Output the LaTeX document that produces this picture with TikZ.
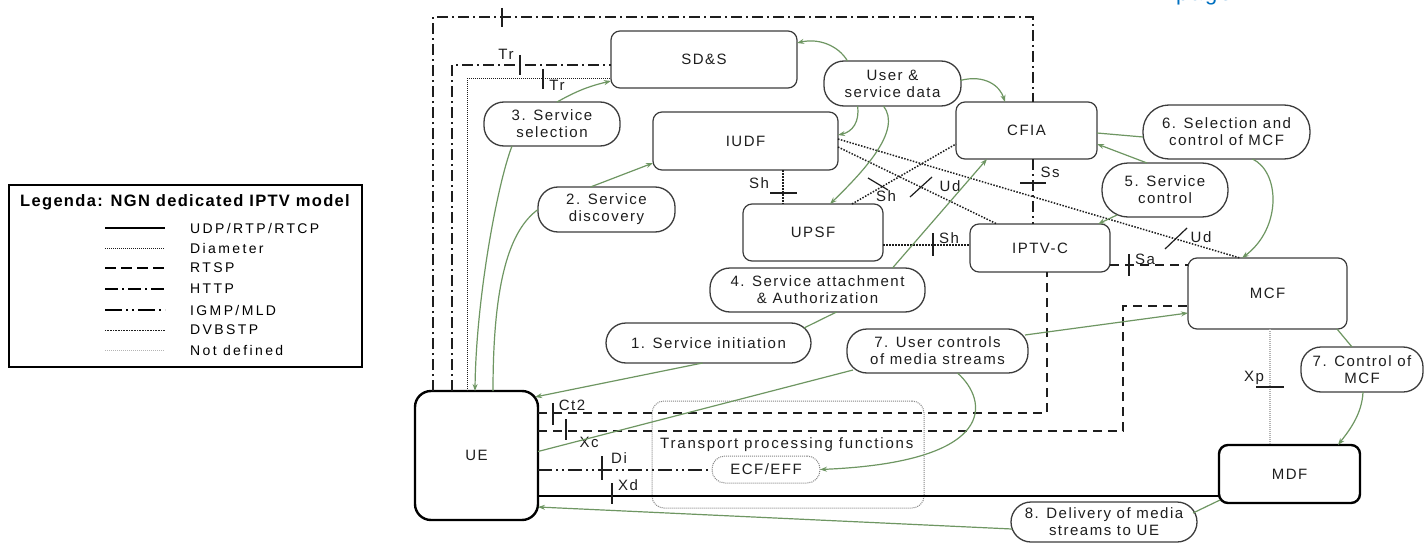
\documentclass[tikz,border=0pt]{standalone}
\usepackage{fontspec}
\setmainfont{Liberation Sans}[LetterSpace=10]
\newfontfamily\legendfont{Liberation Sans}[LetterSpace=17]
\newfontfamily\legendtitlefont{Liberation Sans}[LetterSpace=8]
\usetikzlibrary{arrows.meta,calc}

\definecolor{edge}{RGB}{60,60,60}
\definecolor{ink}{RGB}{30,30,30}
\definecolor{flowgreen}{RGB}{110,150,98}
\definecolor{tpfgray}{RGB}{135,135,135}
\definecolor{lightdot}{RGB}{180,180,180}
\definecolor{pageblue}{RGB}{0,112,192}

\tikzset{
  fn/.style={draw=edge, line width=1.2pt, rounded corners=9pt, outer sep=0pt, inner sep=2pt,
    text=ink, font=\fontsize{15}{17}\selectfont},
  fnthick/.style={fn, draw=black, line width=2.4pt},
  bubble/.style={draw=edge, line width=1.3pt, rounded corners=20pt, outer sep=0pt, inner sep=1pt,
    align=center, text=ink, font=\fontsize{15}{17}\selectfont},
  iflab/.style={text=ink, font=\fontsize{15}{15}\selectfont, inner sep=0pt},
  tick/.style={draw=ink, line width=1.2pt},
  http/.style={draw=ink, line width=1.6pt, dash pattern=on 11pt off 4pt on 2pt off 4pt},
  rtsp/.style={draw=ink, line width=2.4pt, dash pattern=on 9pt off 6pt},
  udp/.style={draw=black, line width=2.6pt},
  igmp/.style={draw=ink, line width=2pt, dash pattern=on 14pt off 4pt on 2pt off 4pt on 2pt off 4pt},
  diam/.style={draw=ink, line width=1.5pt, dash pattern=on 1.5pt off 1.5pt},
  dvb/.style={draw=ink, line width=1pt, dash pattern=on 1pt off 1pt},
  nodef/.style={draw=lightdot, line width=1.2pt, dash pattern=on 1pt off 1pt},
  flow/.style={draw=flowgreen, line width=1.2pt},
  flowarr/.style={flow, -{Stealth[length=7pt,width=5pt]}},
  legtxt/.style={anchor=west, inner sep=0pt, text=black, font=\legendfont\fontsize{14}{14}\selectfont},
}

\begin{document}
\begin{tikzpicture}[x=1pt,y=-1pt]
\useasboundingbox[fill=white] (0,0) rectangle (1427,543);

% partly visible page caption
\node[anchor=base west, text=pageblue, font=\fontsize{22}{22}\selectfont, inner sep=0pt] (pg) at (1176,0.5) {page};

% ---------- functional entities ----------
\node[fn, minimum width=186pt, minimum height=57pt] (SDS) at (704,59.5) {SD\&S};
\node[fn, minimum width=185pt, minimum height=58pt] (IUDF) at (745.5,141) {IUDF};
\node[fn, minimum width=141pt, minimum height=57pt] (CFIA) at (1026.5,130.5) {CFIA};
\node[fn, minimum width=140pt, minimum height=57pt] (UPSF) at (813,232.5) {UPSF};
\node[fn, minimum width=140pt, minimum height=48pt] (IPTVC) at (1040,248) {IPTV-C};
\node[fn, minimum width=159pt, minimum height=71pt] (MCF) at (1267.5,293.5) {MCF};
\node[fnthick, minimum width=141pt, minimum height=58pt] (MDF) at (1289.5,474) {MDF};
\node[fnthick, minimum width=123pt, minimum height=129pt, rounded corners=16pt] (UE) at (476.5,455.5) {UE};

% transport processing functions
\node[draw=tpfgray, line width=1pt, dash pattern=on 1pt off 1pt, rounded corners=12pt,
      minimum width=272pt, minimum height=107pt, outer sep=0pt] (TPF) at (788,454.5) {};
\node[iflab, anchor=west, font=\addfontfeatures{LetterSpace=12}\fontsize{15}{15}\selectfont] (TPFlab) at (660,445) {Transport processing functions};
\node[bubble, draw=tpfgray, line width=1pt, dash pattern=on 1pt off 1pt, rounded corners=13pt,
      minimum width=108pt, minimum height=27pt] (ECF) at (766,469.5) {ECF/EFF};

% ---------- step bubbles ----------
\node[bubble, minimum width=136pt, minimum height=44pt] (b3) at (552,124) {3. Service\\selection};
\node[bubble, minimum width=137pt, minimum height=45pt] (b2) at (606.5,209.5) {2. Service\\discovery};
\node[bubble, minimum width=137pt, minimum height=45pt] (bU) at (892.5,83.5) {User \&\\service data};
\node[bubble, minimum width=167pt, minimum height=54pt, rounded corners=26pt] (b6) at (1226.5,132) {6. Selection and\\control of MCF};
\node[bubble, minimum width=126pt, minimum height=54pt, rounded corners=26pt] (b5) at (1165,190) {5. Service\\control};
\node[bubble, minimum width=215pt, minimum height=44pt] (b4) at (817.5,290) {4. Service attachment\\\& Authorization};
\node[bubble, minimum width=205pt, minimum height=40pt] (b1) at (708.5,343) {1. Service initiation};
\node[bubble, minimum width=181pt, minimum height=44pt] (b7u) at (937.5,351) {7. User controls\\of media streams};
\node[bubble, minimum width=122pt, minimum height=45pt] (b7c) at (1362,369.5) {7. Control of\\MCF};
\node[bubble, minimum width=186pt, minimum height=40pt] (b8) at (1104,522) {8. Delivery of media\\streams to UE};

% ---------- reference points ----------
\coordinate (hNW) at (433,17);
\coordinate (hNE) at (1033,17);
\coordinate (trH) at (452,65);
\coordinate (trD) at (467,79);
\coordinate (ssX) at (1033,0);
\coordinate (shX) at (783,0);
\coordinate (shY) at (0,245);
\coordinate (saY) at (0,265);
\coordinate (ctY) at (0,413);
\coordinate (ctX) at (1047,0);
\coordinate (xcY) at (0,431);
\coordinate (xcX) at (1123,306);
\coordinate (xdY) at (0,496);
\coordinate (xpX) at (1270,0);

% ---------- protocol connections ----------
% HTTP, UE to CFIA round the top
\draw[http] (UE.north -| hNW) -- (hNW) -- (hNE) -- (CFIA.north -| hNE);
\draw[tick] (502,8) -- (502,27);
% HTTP Tr
\draw[http] (UE.north -| trH) |- (SDS.west |- trH);
\draw[tick] (520,55) -- (520,75);
\node[iflab] (lTr1) at (506,54) {Tr};
% DVBSTP Tr
\draw[dvb] (UE.north -| trD) |- (SDS.west |- trD);
\draw[tick] (543,69) -- (543,89);
\node[iflab] (lTr2) at (557,85) {Tr};
% Ss
\draw[http] (CFIA.south -| ssX) -- (IPTVC.north -| ssX);
\draw[tick] (1020,183) -- (1046,183);
\node[iflab] (lSs) at (1050,172) {Ss};
% Sh  IUDF - UPSF
\draw[diam] (IUDF.south -| shX) -- (UPSF.north -| shX);
\draw[tick] (770,193) -- (797,193);
\node[iflab] (lSh1) at (759,183) {Sh};
% Sh  UPSF - IPTV-C
\draw[diam] (UPSF.east |- shY) -- (IPTVC.west |- shY);
\draw[tick] (933,233) -- (933,256);
\node[iflab] (lSh2) at (949,238) {Sh};
% Sh  UPSF - CFIA
\draw[diam] ($(UPSF.north west)+(109,0)$) -- ($(CFIA.north west)+(0,42)$);
\draw[tick] (868,178) -- (888,190);
\node[iflab] (lSh3) at (886,196) {Sh};
% Ud  IUDF - IPTV-C
\draw[diam] ($(IUDF.north east)+(0,35)$) -- ($(IPTVC.north west)+(27,0)$);
\draw[tick] (910,197) -- (932,177);
\node[iflab] (lUd1) at (950,186) {Ud};
% Ud  IUDF - MCF
\draw[diam] ($(IUDF.north east)+(0,27)$) -- ($(MCF.north west)+(52,0)$);
\draw[tick] (1165,249) -- (1187,228);
\node[iflab] (lUd2) at (1201,237) {Ud};
% Sa
\draw[rtsp] (IPTVC.east |- saY) -- (MCF.west |- saY);
\draw[tick] (1129,254) -- (1129,276);
\node[iflab] (lSa) at (1145,259) {Sa};
% Ct2
\draw[rtsp] (UE.east |- ctY) -| (IPTVC.south -| ctX);
\draw[tick] (553,403) -- (553,425);
\node[iflab] (lCt2) at (572,405) {Ct2};
% Xc
\draw[rtsp] (UE.east |- xcY) -| (xcX) -- (MCF.west |- xcX);
\draw[tick] (566,419) -- (566,440);
\node[iflab] (lXc) at (589,442) {Xc};
% Di
\draw[igmp] (UE.east |- ECF.west) -- (ECF.west);
\draw[tick] (602,456) -- (602,480);
\node[iflab] (lDi) at (619,458) {Di};
% Xd
\draw[udp] (UE.east |- xdY) -- (MDF.west |- xdY);
\draw[tick] (612,483) -- (612,504);
\node[iflab] (lXd) at (628,485) {Xd};
% Xp
\draw[nodef] (MCF.south -| xpX) -- (MDF.north -| xpX);
\draw[tick] (1256,387) -- (1284,387);
\node[iflab] (lXp) at (1254,378) {Xp};

% ---------- procedure flows ----------
\draw[flowarr] ($(b3.north)+(5,0)$) to[bend left=8] ($(SDS.south west)+(0,-7)$);
\draw[flowarr] ($(b2.north)+(-16,0)$) -- ($(IUDF.south west)+(0,-7)$);
\draw[flowarr] ($(b3.south)+(-40,0)$) .. controls (497,185) and (476,300) .. ($(UE.north)+(-1.5,0)$);
\draw[flow] (b2.west) .. controls (510,230) and (493,280) .. ($(UE.north)+(16.5,0)$);
\draw[flowarr] ($(bU.north)+(-45,0)$) .. controls (838,45) and (818,38) .. ($(SDS.north east)+(0,12)$);
\draw[flowarr] ($(bU.east)+(-1,-3)$) .. controls (985,74) and (1000,86) .. ($(CFIA.north west)+(49,0)$);
\draw[flowarr] ($(bU.south)+(-35,0)$) .. controls (860,122) and (852,132) .. ($(IUDF.north east)+(0,23)$);
\draw[flowarr] ($(bU.south)+(-9,0)$) .. controls (902,130) and (865,170) .. ($(UPSF.north west)+(87,0)$);
\draw[flowarr] ($(b4.north)+(75,0)$) -- ($(CFIA.south west)+(31,0)$);
\draw[flow] ($(b4.south)+(19,0)$) -- ($(b1.east)+(-7,-15)$);
\draw[flowarr] ($(b1.south)+(-6,0)$) -- ($(UE.north east)+(-3,6)$);
\draw[flow] ($(CFIA.north east)+(0,31)$) -- ($(b6.west)+(0,5)$);
\draw[flowarr] ($(b5.north west)+(45,0)$) -- ($(CFIA.north east)+(0,42)$);
\draw[flowarr] ($(b5.south west)+(15,-2)$) -- ($(IPTVC.north east)+(-12,0)$);
\draw[flowarr] ($(b6.south)+(26,0)$) .. controls (1280,172) and (1282,228) .. ($(MCF.north west)+(54,0)$);
\draw[flowarr] ($(b7u.east)+(-3,-16)$) -- ($(MCF.south west)+(0,-16)$);
\draw[flow] ($(b7u.south west)+(6,-3)$) -- ($(UE.east)+(0,-4)$);
\draw[flowarr] ($(b7u.south)+(20,0)$) .. controls (988,400) and (1000,462) .. (ECF.east);
\draw[flow] ($(MCF.south east)+(-10,0)$) -- ($(b7c.north)+(-10,0)$);
\draw[flowarr] ($(b7c.south)+(1,0)$) .. controls (1362,415) and (1348,432) .. ($(MDF.north east)+(-22,0)$);
\draw[flow] ($(MDF.south west)+(1,-3)$) -- ($(b8.east)+(-4,-9)$);
\draw[flowarr] ($(b8.west)+(1,7)$) -- ($(UE.south east)+(0,-13)$);

% ---------- legend ----------
\node[draw=black, line width=2pt, minimum width=353pt, minimum height=182pt, outer sep=0pt] (LEG) at (185.5,276) {};
\node[inner sep=0pt, text=black, font=\legendtitlefont\bfseries\fontsize{16.5}{16.5}\selectfont] (LEGt) at (185,202) {Legenda: NGN dedicated IPTV model};
\coordinate (l1a) at (105,228); \coordinate (l1b) at (165,228);
\coordinate (l2a) at (105,248); \coordinate (l2b) at (165,248);
\coordinate (l3a) at (105,268); \coordinate (l3b) at (165,268);
\coordinate (l4a) at (105,289); \coordinate (l4b) at (165,289);
\coordinate (l5a) at (105,310); \coordinate (l5b) at (165,310);
\coordinate (l6a) at (105,330); \coordinate (l6b) at (165,330);
\coordinate (l7a) at (105,350); \coordinate (l7b) at (165,350);
\draw[draw=black, line width=2.6pt] (l1a) -- (l1b);
\draw[draw=ink, line width=1pt, dash pattern=on 1pt off 1pt] (l2a) -- (l2b);
\draw[draw=black, line width=2.2pt, dash pattern=on 11pt off 5pt] (l3a) -- (l3b);
\draw[draw=black, line width=1.6pt, dash pattern=on 13pt off 4pt on 2pt off 4pt] (l4a) -- (l4b);
\draw[draw=black, line width=2pt, dash pattern=on 17pt off 4pt on 2pt off 4pt on 2pt off 4pt] (l5a) -- (l5b);
\draw[draw=ink, line width=0.9pt, dash pattern=on 0.8pt off 0.8pt] (l6a) -- (l6b);
\draw[draw=lightdot, line width=1pt, dash pattern=on 1pt off 1pt] (l7a) -- (l7b);
\node[legtxt] (t1) at (190,228) {UDP/RTP/RTCP};
\node[legtxt] (t2) at (190,248) {Diameter};
\node[legtxt] (t3) at (190,268) {RTSP};
\node[legtxt] (t4) at (190,289) {HTTP};
\node[legtxt] (t5) at (190,310) {IGMP/MLD};
\node[legtxt] (t6) at (190,330) {DVBSTP};
\node[legtxt] (t7) at (190,350) {Not defined};
\end{tikzpicture}
\end{document}
